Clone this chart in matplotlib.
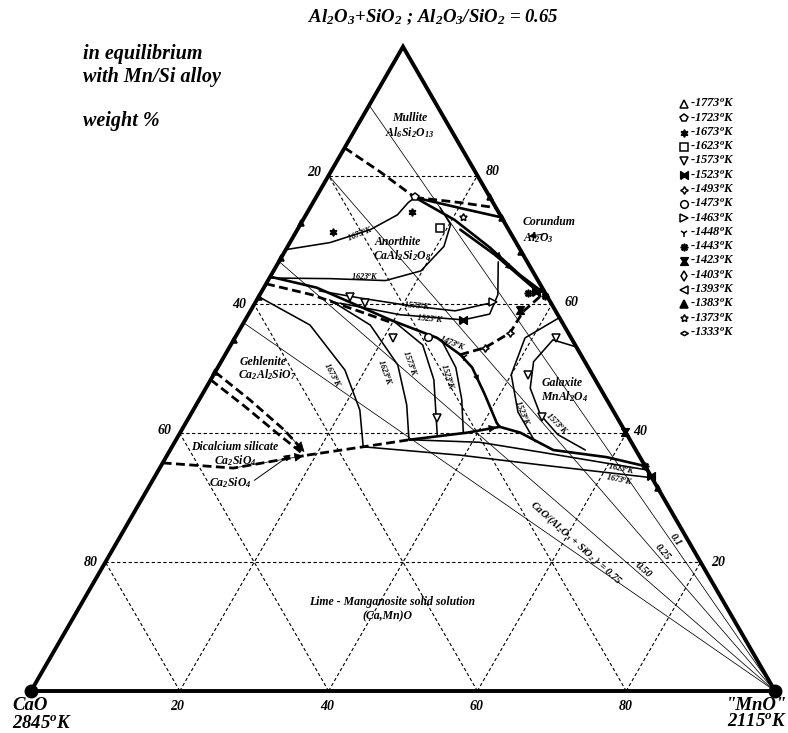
import numpy as np
import matplotlib.pyplot as plt

plt.rcParams['font.family'] = 'Liberation Serif'
plt.rcParams['font.style'] = 'italic'
plt.rcParams['font.weight'] = 'bold'
plt.rcParams['mathtext.fontset'] = 'custom'
for k in ('rm', 'it', 'bf'):
    plt.rcParams['mathtext.' + k] = 'Liberation Serif:italic:bold'

# compositions are (MnO %, (Al2O3+SiO2) %) pairs, CaO is the rest
mullite_anorthite = [(0, 84.3), (6.6, 80.6), (13.3, 76.6)]
mullite_corundum = [(13.3, 76.6), (19.8, 75.8), (25.0, 75.0)]
anorthite_corundum_a = [(13.3, 76.6), (20.0, 75.0), (26.5, 73.5)]
anorthite_corundum_b = [(13.3, 76.6), (20.4, 73.1), (27.3, 68.8), (33.4, 64.6), (38.5, 61.5)]
anorthite_corundum_c = [(21.9, 71.6), (28.5, 67.7), (37.1, 62.0)]
anorthite_gehlenite = [(0, 64.3), (7.1, 62.6), (19.5, 57.6), (27.2, 54.8), (31.6, 52.2)]
anorthite_gehlenite_2 = [(0, 63.2), (7.0, 61.5), (19.5, 57.3)]
anorthite_galaxite = [(31.6, 52.2), (34.4, 53.3), (36.6, 55.6), (36.7, 58.9), (37.8, 61.2)]
gehlenite_galaxite = [(31.6, 52.2), (34.2, 50.2), (38.0, 46.0), (41.8, 41.6), (42.5, 41.0)]
galaxite_lime = [(42.5, 41.0), (45.7, 40.1), (51.5, 37.4), (59.2, 36.3), (65.1, 34.9)]
c2s_lime = [(0, 35.4), (9.9, 34.6), (18.8, 36.6)]
gehlenite_lime_dash = [(18.8, 36.6), (25.7, 37.9), (31.4, 39.0)]
gehlenite_lime = [(31.4, 39.0), (38.6, 40.1), (42.5, 41.0)]
gehlenite_c2s_a = [(0, 49.5), (6.8, 45.2), (13.8, 40.5), (18.2, 37.1)]
gehlenite_c2s_b = [(0, 48.3), (6.6, 44.2), (13.4, 39.8), (18.0, 36.9)]

iso_an_1673 = [(0, 68.5), (5.4, 69.6), (9.8, 71.6), (12.3, 73.9), (12.8, 75.8), (13.3, 76.6)]
iso_an_1623 = [(0, 64.1), (8.2, 64.0), (15.8, 63.7), (19.8, 65.2), (21.0, 69.0), (20.2, 72.4), (17.5, 75.0)]
iso_an_1573 = [(7.7, 62.1), (13.7, 61.0), (21.0, 59.8), (27.5, 59.0), (31.6, 60.2)]
iso_an_1523 = [(11.4, 60.2), (20.4, 58.4), (29.3, 57.6), (32.4, 58.5), (32.0, 61.5), (29.5, 66.6)]
iso_ge_1673 = [(0, 61.2), (9.1, 56.8), (17.3, 49.8), (22.4, 43.6), (25.7, 37.9)]
iso_ge_1623 = [(9.8, 60.7), (17.2, 56.8), (24.0, 50.6), (28.3, 44.4), (31.3, 39.0)]
iso_ge_1573 = [(20.2, 57.3), (25.8, 53.7), (30.0, 48.3), (34.7, 39.8)]
iso_ge_1523 = [(27.9, 54.5), (32.0, 50.2), (35.3, 45.2), (38.0, 40.2)]
iso_ga_1523 = [(42.0, 57.9), (39.0, 54.8), (40.0, 49.1), (43.8, 43.3), (48.4, 38.7)]
iso_ga_1573 = [(46.6, 53.4), (42.9, 54.5), (42.0, 51.1), (43.6, 47.0), (47.0, 42.9), (50.9, 39.8), (55.8, 37.4)]
iso_low_1623 = [(31.3, 39.0), (41.0, 38.6), (49.8, 37.1), (65.7, 34.3)]
iso_low_1673 = [(25.7, 37.9), (39.4, 36.6), (50.9, 35.1), (66.9, 33.1)]

ratios = [0.1, 0.25, 0.5, 0.75]
ratio_labels = ['0.1', '0.25', '0.50', 'CaO/(Al$_2$O$_3$ + SiO$_2$ ) = 0.75']

legend_temps = [1773, 1723, 1673, 1623, 1573, 1523, 1493, 1473, 1463,
                1448, 1443, 1423, 1403, 1393, 1383, 1373, 1333]

point_marks = {
    1723: [(13.3, 76.6)],
    1673: [(4.9, 71.3), (14.0, 74.4)],
    1623: [(19.0, 71.9)],
    1573: [(12.3, 61.2), (14.8, 60.2), (21.3, 54.8), (33.4, 42.4),
           (43.2, 54.8), (42.3, 49.1), (47.4, 42.5)],
    1523: [(29.3, 57.6), (36.9, 61.9), (66.6, 33.4)],
    1493: [(34.4, 53.3), (36.6, 55.6)],
    1473: [(25.9, 55.0)],
    1463: [(31.9, 60.4)],
    1448: [(32.2, 51.9)],
    1443: [(35.9, 61.8), (38.4, 61.3), (65.1, 34.9)],
    1423: [(36.1, 59.2), (59.8, 40.2)],
    1383: [(0, 72.7), (0, 67.2), (0, 61.2), (0, 54.5), (0, 49.5),
           (23.3, 76.7), (26.6, 73.4), (31.8, 68.2), (68.5, 31.5)],
    1373: [(21.3, 73.6)],
}

H = np.sqrt(3) / 2


def tern(mno, top):
    mno = np.asarray(mno, float) / 100
    top = np.asarray(top, float) / 100
    return mno + top / 2, top * H


def pix(xp, yp):
    # page position in pixels (from top-left) -> data units
    return (xp - 31) / 744, (691 - yp) / 744


bowtie = [(-1, -1), (-1, 1), (0, 0.35), (1, 1), (1, -1), (0, -0.35), (-1, -1)]
hourglass = [(-1, 1), (1, 1), (0.35, 0), (1, -1), (-1, -1), (-0.35, 0), (-1, 1)]
flat_diamond = [(-1, 0), (0, 0.55), (1, 0), (0, -0.55), (-1, 0)]
marker_style = {
    1773: ('^', False), 1723: ('p', False), 1673: ((6, 1, 0), True),
    1623: ('s', False), 1573: ('v', False), 1523: (bowtie, True),
    1493: ((4, 1, 0), False), 1473: ('o', False), 1463: ('>', False),
    1448: ('1', True), 1443: ((8, 1, 0), True), 1423: (hourglass, True),
    1403: ('d', False), 1393: ('<', False), 1383: ('^', True),
    1373: ((5, 1, 0), False), 1333: (flat_diamond, False),
}

fig = plt.figure(figsize=(7.88, 7.33), dpi=100)
ax = fig.add_axes([0, 0, 1, 1])
ax.set_xlim(-31 / 744, 757 / 744)
ax.set_ylim(-42 / 744, 691 / 744)
ax.axis('off')

THICK_DASH = (0, (3.2, 1.6))


def curve(pts, ls='-', lw=1.5, z=3):
    m, t = zip(*pts)
    x, y = tern(m, t)
    ax.plot(x, y, color='k', lw=lw, ls=ls, zorder=z,
            solid_capstyle='round', solid_joinstyle='round')


def head(pts, i, size=11, frac=0.6):
    m, t = zip(*pts)
    x, y = tern(m, t)
    xm = x[i] + (x[i + 1] - x[i]) * frac
    ym = y[i] + (y[i + 1] - y[i]) * frac
    ax.annotate('', xy=(xm, ym), xytext=(x[i], y[i]),
                arrowprops=dict(arrowstyle='-|>', color='k', lw=0.5,
                                mutation_scale=size, shrinkA=0, shrinkB=0),
                zorder=6)


def mark(temp, pts, ms=6):
    shape, filled = marker_style[temp]
    m, t = zip(*pts)
    x, y = tern(m, t)
    ax.plot(x, y, ls='none', marker=shape, ms=ms, mec='k', mew=1.1,
            mfc='k' if filled else 'white', zorder=7)


# composition grid every 20 %
for k in (20, 40, 60, 80):
    for a, b in (((0, k), (100 - k, k)),
                 ((k, 0), (k, 100 - k)),
                 ((100 - k, 0), (0, 100 - k))):
        x, y = tern([a[0], b[0]], [a[1], b[1]])
        ax.plot(x, y, color='k', lw=0.8, ls=(0, (3, 2.2)), zorder=1)

# constant CaO/(Al2O3+SiO2) sections from the MnO corner
for r in ratios:
    x, y = tern([100, 0], [0, 100 / (1 + r)])
    ax.plot(x, y, color='k', lw=0.55, zorder=1)

# field boundaries
for pts in (mullite_anorthite, mullite_corundum, anorthite_gehlenite_2,
            anorthite_galaxite, c2s_lime, gehlenite_lime_dash,
            gehlenite_c2s_a, gehlenite_c2s_b):
    curve(pts, ls=THICK_DASH, lw=2.0)
for pts in (anorthite_corundum_a, anorthite_corundum_b, anorthite_corundum_c,
            anorthite_gehlenite, gehlenite_galaxite, galaxite_lime,
            gehlenite_lime):
    curve(pts, lw=1.9)

# isotherms
for pts in (iso_an_1673, iso_an_1623, iso_an_1573, iso_an_1523,
            iso_ge_1673, iso_ge_1623, iso_ge_1573, iso_ge_1523,
            iso_ga_1523, iso_ga_1573, iso_low_1623, iso_low_1673):
    curve(pts, lw=1.15, z=2)

head(gehlenite_c2s_a, 2, size=16, frac=1.0)
head(c2s_lime, 1, size=14, frac=0.95)
head(gehlenite_lime, 1, size=12, frac=0.9)
head(anorthite_corundum_b, 2, size=10, frac=0.4)
head(anorthite_corundum_c, 1, size=10, frac=0.4)
head(gehlenite_galaxite, 1, size=9, frac=0.5)

for temp, pts in point_marks.items():
    mark(temp, pts, ms=5.5 if temp != 1383 else 4.5)

# triangle outline and pure-oxide corners
x, y = tern([0, 100, 0, 0], [0, 0, 100, 0])
ax.plot(x, y, color='k', lw=2.8, solid_joinstyle='miter', zorder=8)
x, y = tern([0, 100], [0, 0])
ax.plot(x, y, 'o', color='k', ms=9, zorder=9)

# pointers
ax.annotate('', xy=pix(526, 237), xytext=pix(549, 233),
            arrowprops=dict(arrowstyle='-|>', color='k', lw=0.7, mutation_scale=10))
ax.annotate('', xy=pix(293, 453), xytext=pix(252, 482),
            arrowprops=dict(arrowstyle='-|>', color='k', lw=0.7, mutation_scale=10))

txt = dict(color='k', zorder=10)


def put(xp, yp, s, size, ha='center', rot=0, **kw):
    ax.text(*pix(xp, yp), s, fontsize=size, ha=ha, va='center',
            rotation=rot, rotation_mode='anchor', **txt, **kw)


put(433, 17, 'Al$_2$O$_3$+SiO$_2$ ; Al$_2$O$_3$/SiO$_2$ = 0.65', 13.5)
put(83, 54, 'in equilibrium', 14.5, ha='left')
put(83, 77, 'with Mn/Si alloy', 14.5, ha='left')
put(83, 121, 'weight %', 14.5, ha='left')
put(12, 706, 'CaO', 13.5, ha='left')
put(12, 723, '2845$^o$K', 13.5, ha='left')
put(787, 705, '"MnO"', 13.5, ha='right')
put(787, 722, '2115$^o$K', 13.5, ha='right')

for s, xp in zip(('20', '40', '60', '80'), (177, 327, 477, 626)):
    put(xp, 707, s, 10)
for s, (xp, yp) in zip(('20', '40', '60', '80'),
                       ((314, 173), (239, 305), (165, 431), (91, 563))):
    put(xp, yp, s, 10)
for s, (xp, yp) in zip(('80', '60', '40', '20'),
                       ((493, 172), (572, 303), (640, 432), (718, 562))):
    put(xp, yp, s, 10)

for xp, yp, s in ((410, 118, 'Mullite'), (410, 133, 'Al$_6$Si$_2$O$_{13}$'),
                  (398, 242, 'Anorthite'), (402, 256, 'CaAl$_2$Si$_2$O$_8$'),
                  (263, 362, 'Gehlenite'), (267, 375, 'Ca$_2$Al$_2$SiO$_7$'),
                  (562, 383, 'Galaxite'), (565, 397, 'MnAl$_2$O$_4$'),
                  (235, 447, 'Dicalcium silicate'), (235, 461, 'Ca$_2$SiO$_4$'),
                  (230, 483, 'Ca$_2$SiO$_4$'),
                  (392, 602, 'Lime - Manganosite solid solution'),
                  (387, 616, '(Ca,Mn)O')):
    put(xp, yp, s, 8.5)
put(523, 222, 'Corundum', 8.5, ha='left')
put(523, 238, 'Al$_2$O$_3$', 8.5, ha='left')

for xp, yp, s, rot in ((360, 233, '1673$^o$K', 22), (365, 276, '1623$^o$K', 0),
                       (417, 305, '1573$^o$K', -5), (430, 318, '1523$^o$K', -5),
                       (453, 343, '1473$^o$K', -22), (333, 375, '1673$^o$K', -62),
                       (385, 372, '1623$^o$K', -70), (410, 363, '1573$^o$K', -70),
                       (448, 377, '1523$^o$K', -72), (523, 413, '1523$^o$K', -68),
                       (557, 423, '1573$^o$K', -45), (622, 468, '1623$^o$K', -12),
                       (620, 479, '1673$^o$K', -12)):
    put(xp, yp, s, 6, rot=rot)

for s, (xp, yp), rot in zip(ratio_labels,
                            ((675, 540), (663, 552), (643, 570), (576, 543)),
                            (-55, -49, -41, -42)):
    put(xp, yp, s, 7.5, rot=rot)

# temperature key
for i, temp in enumerate(legend_temps):
    yp = 104 + i * 14.3
    shape, filled = marker_style[temp]
    ax.plot(*pix(684, yp), ls='none', marker=shape, ms=5.5, mec='k', mew=1.1,
            mfc='k' if filled else 'white', zorder=7)
    put(690, yp, '-%d$^o$K' % temp, 9, ha='left')

fig.savefig('out.png', dpi=100)
